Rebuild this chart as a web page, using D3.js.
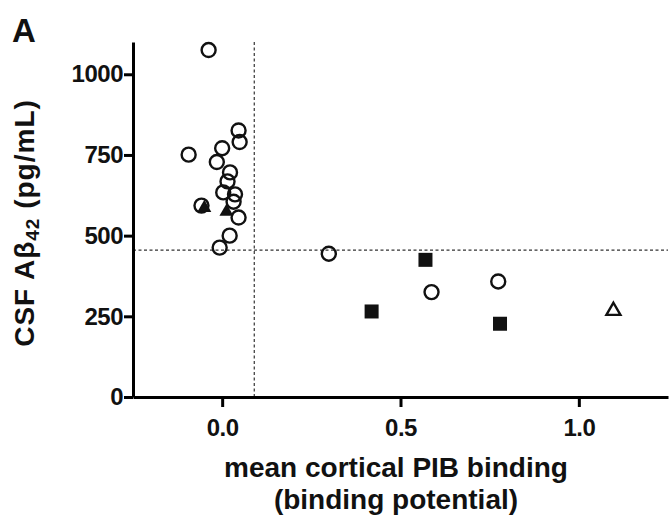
<!DOCTYPE html>
<html><head><meta charset="utf-8">
<script src="https://cdn.jsdelivr.net/npm/d3@7"></script>
<style>body{margin:0;background:#fff}svg{display:block;font-family:"Liberation Sans",Arial,sans-serif}</style>
</head><body>
<svg id="c" width="670" height="520"></svg>
<script>
// Data
const openCircles = [
  [-0.038,1075],[0.046,826],[0.049,790],[-0.094,751],[0.0,771],[-0.015,728],
  [0.022,696],[0.015,668],[0.003,634],[0.036,628],[0.032,605],[-0.058,593],
  [0.046,556],[0.021,500],[-0.007,463],
  [0.299,444],[0.774,358],[0.587,325]
];
const filledSquares = [[0.570,425],[0.419,265],[0.779,227]];
const openTriangles = [[1.097,267]];
const filledTriangles = [[-0.050,586],[0.012,574]];
const xTicks = [0.0,0.5,1.0];
const yTicks = [0,250,500,750,1000];
const xCut = 0.09, yCut = 455;

const svg = d3.select("#c");
const x = d3.scaleLinear().domain([-0.25,1.25]).range([133,668]);
const y = d3.scaleLinear().domain([0,1100]).range([397,42]);

// dashed cut-off lines
svg.append("line").attr("x1",x(xCut)).attr("x2",x(xCut)).attr("y1",y(1100)).attr("y2",y(0))
  .attr("stroke","#333").attr("stroke-width",1.2).attr("stroke-dasharray","3,2.5");
svg.append("line").attr("x1",x(-0.25)).attr("x2",x(1.25)).attr("y1",y(yCut)).attr("y2",y(yCut))
  .attr("stroke","#333").attr("stroke-width",1.2).attr("stroke-dasharray","3,2.5");

// axes
const ax = svg.append("g").attr("transform","translate(0,397)")
  .call(d3.axisBottom(x).tickValues(xTicks).tickFormat(d3.format(".1f")).tickSize(10).tickSizeOuter(0).tickPadding(12));
const ay = svg.append("g").attr("transform","translate(133,0)")
  .call(d3.axisLeft(y).tickValues(yTicks).tickFormat(d3.format("d")).tickSize(9).tickSizeOuter(0).tickPadding(1));
[ax,ay].forEach(g=>{
  g.select(".domain").attr("stroke","#000").attr("stroke-width",3);
  g.selectAll(".tick line").attr("stroke","#000").attr("stroke-width",3);
  g.selectAll(".tick text").attr("fill","#111").attr("font-size",24).attr("font-weight","bold")
    .attr("letter-spacing",-0.5)
    .attr("font-family","'Liberation Sans',Arial,sans-serif");
});

// markers
const pts = svg.append("g");
pts.selectAll("circle.o").data(openCircles).join("circle").attr("class","o")
  .attr("cx",d=>x(d[0])).attr("cy",d=>y(d[1])).attr("r",7)
  .attr("fill","none").attr("stroke","#111").attr("stroke-width",2.4);
pts.selectAll("rect.s").data(filledSquares).join("rect").attr("class","s")
  .attr("x",d=>x(d[0])-7).attr("y",d=>y(d[1])-7).attr("width",14).attr("height",14).attr("fill","#111");
const tri = d3.symbol().type(d3.symbolTriangle).size(85);
pts.selectAll("path.ot").data(openTriangles).join("path").attr("class","ot")
  .attr("d",tri).attr("transform",d=>`translate(${x(d[0])},${y(d[1])})`)
  .attr("fill","none").attr("stroke","#111").attr("stroke-width",2.4);
pts.selectAll("path.ft").data(filledTriangles).join("path").attr("class","ft")
  .attr("d",tri).attr("transform",d=>`translate(${x(d[0])},${y(d[1])})`).attr("fill","#111");

// titles
const yt = svg.append("text").attr("transform",`translate(34,223) rotate(-90)`)
  .attr("text-anchor","middle").attr("font-size",28).attr("font-weight","bold").attr("fill","#111")
  .attr("letter-spacing",1);
yt.append("tspan").text("CSF A\u03B2");
yt.append("tspan").attr("font-size",19).attr("dy",5).text("42");
yt.append("tspan").attr("dy",-5).text(" (pg/mL)");

svg.append("text").attr("x",396).attr("y",477).attr("text-anchor","middle").attr("font-size",28)
  .attr("font-weight","bold").attr("fill","#111").text("mean cortical PIB binding");
svg.append("text").attr("x",396).attr("y",509).attr("text-anchor","middle").attr("font-size",28)
  .attr("font-weight","bold").attr("fill","#111").text("(binding potential)");
svg.append("text").attr("x",12).attr("y",42).attr("font-size",33).attr("font-weight","bold").attr("fill","#111").text("A");
</script>
</body></html>
